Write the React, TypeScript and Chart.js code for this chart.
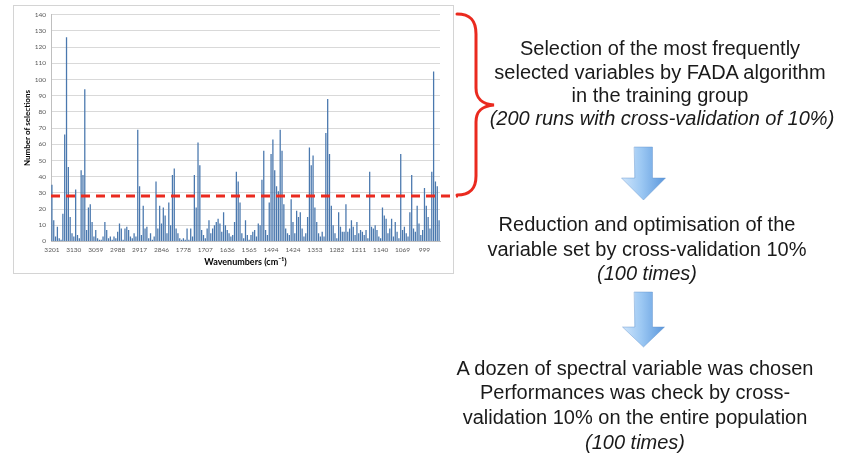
import React, { useEffect, useRef } from 'react';
import { Chart, registerables } from 'chart.js';

Chart.register(...registerables);

// Tick labels (wavenumbers, cm-1), one every 12 categories
const TICK_LABELS = ['3201', '3130', '3059', '2988', '2917', '2846', '1778', '1707', '1636', '1565', '1494', '1424', '1353', '1282', '1211', '1140', '1069', '999'];

// Number of selections, one block per tick interval
const SEG_3201 = [35, 13, 3, 9, 2, 1, 17, 66, 126, 46, 15, 5];
const SEG_3130 = [3, 32, 4, 2, 44, 41, 94, 7, 21, 23, 12, 3];
const SEG_3059 = [7, 2, 1, 1, 3, 12, 7, 2, 3, 1, 3, 2];
const SEG_2988 = [6, 11, 8, 1, 8, 9, 7, 3, 2, 5, 3, 69];
const SEG_2917 = [34, 4, 22, 8, 9, 2, 5, 1, 3, 37, 8, 22];
const SEG_2846 = [11, 21, 16, 5, 24, 10, 41, 45, 8, 5, 2, 1];
const SEG_1778 = [2, 1, 8, 1, 8, 3, 41, 21, 61, 47, 7, 4];
const SEG_1707 = [2, 8, 13, 5, 8, 10, 12, 14, 11, 6, 18, 10];
const SEG_1636 = [7, 5, 3, 4, 12, 43, 37, 24, 5, 2, 13, 4];
const SEG_1565 = [1, 4, 6, 7, 3, 11, 10, 38, 56, 7, 4, 24];
const SEG_1494 = [54, 63, 44, 34, 31, 69, 56, 23, 8, 5, 4, 26];
const SEG_1424 = [12, 5, 19, 15, 18, 8, 3, 5, 15, 58, 47, 53];
const SEG_1353 = [21, 12, 5, 3, 6, 3, 67, 88, 54, 22, 10, 5];
const SEG_1282 = [2, 18, 9, 6, 6, 23, 6, 8, 13, 9, 4, 12];
const SEG_1211 = [5, 7, 6, 4, 7, 2, 43, 9, 8, 10, 7, 3];
const SEG_1140 = [2, 21, 16, 14, 5, 8, 14, 3, 12, 6, 2, 54];
const SEG_1069 = [7, 9, 5, 3, 18, 41, 8, 6, 22, 11, 4, 7];
const SEG_999 = [33, 22, 15, 8, 43, 105, 37, 34, 13];

const SEGMENTS = [SEG_3201, SEG_3130, SEG_3059, SEG_2988, SEG_2917, SEG_2846, SEG_1778, SEG_1707, SEG_1636, SEG_1565, SEG_1494, SEG_1424, SEG_1353, SEG_1282, SEG_1211, SEG_1140, SEG_1069, SEG_999];

const THRESHOLD = 28;

const VALUES: number[] = [];
const LABELS: string[] = [];
SEGMENTS.forEach((seg, s) => {
  seg.forEach((v, i) => {
    VALUES.push(v);
    LABELS.push(i === 0 ? TICK_LABELS[s] : '');
  });
});

function drawArrow(ctx: CanvasRenderingContext2D, cx: number, top: number, headTop: number, tip: number, shaftHalf: number, headHalf: number) {
  const g = ctx.createLinearGradient(cx - headHalf, 0, cx + headHalf, 0);
  g.addColorStop(0, '#cfe5fb');
  g.addColorStop(0.45, '#9cc8f3');
  g.addColorStop(1, '#5b97dc');
  ctx.beginPath();
  ctx.moveTo(cx - shaftHalf, top);
  ctx.lineTo(cx + shaftHalf, top);
  ctx.lineTo(cx + shaftHalf, headTop);
  ctx.lineTo(cx + headHalf, headTop);
  ctx.lineTo(cx, tip);
  ctx.lineTo(cx - headHalf, headTop);
  ctx.lineTo(cx - shaftHalf, headTop);
  ctx.closePath();
  ctx.fillStyle = g;
  ctx.fill();
  ctx.strokeStyle = 'rgba(90,140,200,0.5)';
  ctx.lineWidth = 0.8;
  ctx.stroke();
}

const overlayPlugin = {
  id: 'overlay',
  beforeDraw(chart: any) {
    const ctx = chart.ctx as CanvasRenderingContext2D;
    ctx.save();
    ctx.fillStyle = '#ffffff';
    ctx.fillRect(0, 0, chart.width, chart.height);
    ctx.strokeStyle = '#d4d4d4';
    ctx.lineWidth = 1;
    ctx.strokeRect(13.5, 5.5, 440, 268);
    ctx.restore();
  },
  afterDraw(chart: any) {
    const ctx = chart.ctx as CanvasRenderingContext2D;
    const y = chart.scales.y.getPixelForValue(THRESHOLD);
    ctx.save();
    ctx.strokeStyle = '#ea2a1f';
    ctx.lineWidth = 3;
    ctx.setLineDash([9, 6]);
    ctx.beginPath();
    ctx.moveTo(chart.chartArea.left, y);
    ctx.lineTo(458, y);
    ctx.stroke();
    ctx.setLineDash([]);
    // brace
    ctx.lineWidth = 3;
    ctx.lineCap = 'round';
    ctx.beginPath();
    ctx.moveTo(457, 14);
    ctx.bezierCurveTo(470, 14, 476, 20, 476, 34);
    ctx.lineTo(476, 88);
    ctx.bezierCurveTo(476, 100, 483, 104, 494, 105);
    ctx.bezierCurveTo(483, 106, 476, 110, 476, 122);
    ctx.lineTo(476, 176);
    ctx.bezierCurveTo(476, 189, 470, 195, 457, 195);
    ctx.stroke();
    // arrows
    drawArrow(ctx, 643.5, 147, 178, 200, 9, 22);
    drawArrow(ctx, 643.5, 292, 327, 347, 9, 21);
    ctx.restore();
  },
};

const textBase: React.CSSProperties = {
  position: 'absolute',
  width: 500,
  textAlign: 'center',
  whiteSpace: 'nowrap',
  fontFamily: '"Liberation Sans", Arial, sans-serif',
  fontSize: 20,
  lineHeight: '24px',
  color: '#1a1a1a',
};

function Line({ cx, cy, italic, children }: { cx: number; cy: number; italic?: boolean; children: React.ReactNode }) {
  return (
    <div style={{ ...textBase, left: cx - 250, top: cy - 12, fontStyle: italic ? 'italic' : 'normal' }}>{children}</div>
  );
}

export default function App() {
  const ref = useRef<HTMLCanvasElement | null>(null);
  useEffect(() => {
    if (!ref.current) return;
    const chart = new Chart(ref.current, {
      type: 'bar',
      data: {
        labels: LABELS,
        datasets: [
          {
            data: VALUES,
            backgroundColor: '#4a78ae',
            borderWidth: 0,
            barPercentage: 0.7,
            categoryPercentage: 1,
          },
        ],
      },
      options: {
        animation: false,
        responsive: false,
        devicePixelRatio: 1,
        layout: { padding: { left: 14, top: 14.7, right: 403, bottom: 453 - 241.4 - 28 } },
        plugins: { legend: { display: false }, tooltip: { enabled: false } },
        scales: {
          x: {
            grid: { display: false, drawTicks: false },
            border: { display: true, color: '#bfbfbf' },
            ticks: {
              autoSkip: false,
              maxRotation: 0,
              minRotation: 0,
              padding: 5,
              color: '#595959',
              font: { family: 'Lato', size: 6.5 },
            },
            title: {
              display: true,
              text: 'Wavenumbers (cm⁻¹)',
              color: '#000',
              font: { family: 'Lato', size: 9, weight: 'bold' },
              padding: { top: 0, bottom: 2 },
            },
            afterFit: (s: any) => {
              s.height = 28;
            },
          },
          y: {
            min: 0,
            max: 140,
            ticks: { stepSize: 10, padding: 5, color: '#595959', font: { family: 'Lato', size: 6.5 } },
            grid: { color: '#d9d9d9', drawTicks: false },
            border: { display: true, color: '#bfbfbf' },
            title: {
              display: true,
              text: 'Number of selections',
              color: '#000',
              font: { family: 'Lato', size: 8, weight: 'bold' },
              padding: { top: 9, bottom: 0 },
            },
            afterFit: (s: any) => {
              s.width = 37;
            },
          },
        },
      },
      plugins: [overlayPlugin],
    } as any);
    return () => chart.destroy();
  }, []);

  return (
    <div style={{ position: 'fixed', left: 0, top: 0, width: 843, height: 453, background: '#fff', overflow: 'hidden' }}>
      <canvas ref={ref} width={843} height={453} style={{ display: 'block', width: 843, height: 453 }} />
      <Line cx={660} cy={48}>Selection of the most frequently</Line>
      <Line cx={660} cy={72}>selected variables by FADA algorithm</Line>
      <Line cx={660} cy={95}>in the training group</Line>
      <Line cx={662} cy={118} italic>(200 runs with cross-validation of 10%)</Line>
      <Line cx={647} cy={224}>Reduction and optimisation of the</Line>
      <Line cx={647} cy={249}>variable set by cross-validation 10%</Line>
      <Line cx={647} cy={273} italic>(100 times)</Line>
      <Line cx={635} cy={368}>A dozen of spectral variable was chosen</Line>
      <Line cx={635} cy={392}>Performances was check by cross-</Line>
      <Line cx={635} cy={417}>validation 10% on the entire population</Line>
      <Line cx={635} cy={442} italic>(100 times)</Line>
    </div>
  );
}
